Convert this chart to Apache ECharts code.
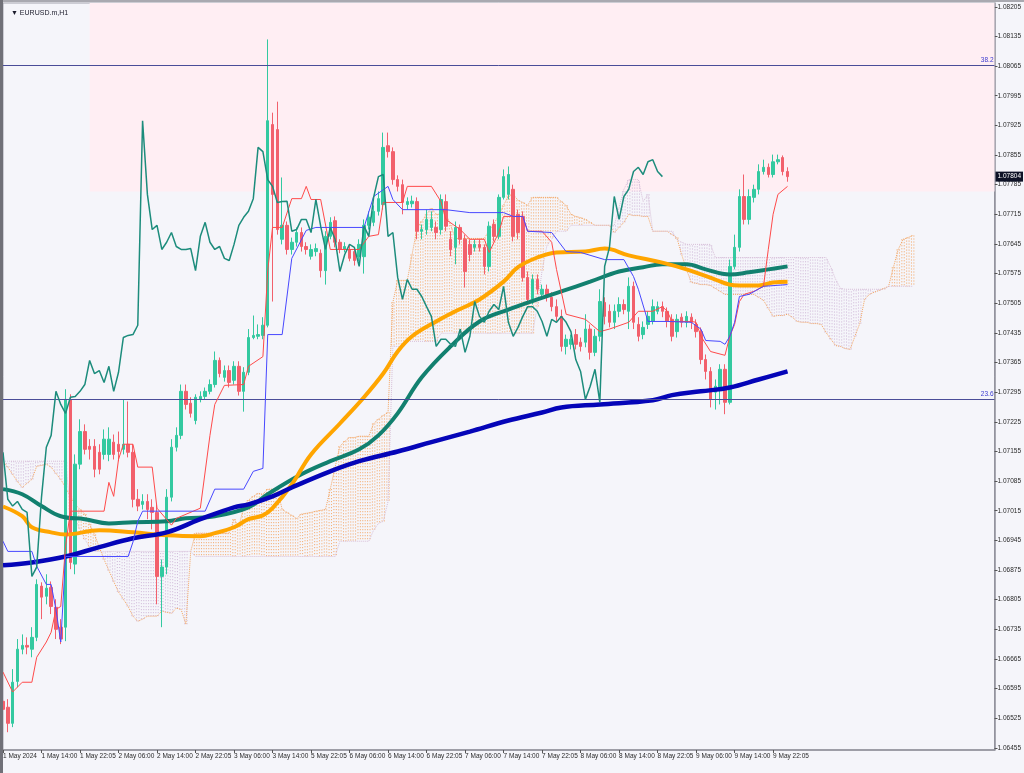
<!DOCTYPE html>
<html><head><meta charset="utf-8">
<script src="https://cdn.jsdelivr.net/npm/echarts@6/dist/echarts.min.js"></script>
<style>html,body{margin:0;padding:0;background:#f5f5fa;}#c{width:1024px;height:773px;}</style>
</head><body><div id="c"></div>
<script>
const tickLabels = ["1 May 2024","1 May 14:00","1 May 22:05","2 May 06:00","2 May 14:00","2 May 22:05","3 May 06:00","3 May 14:00","5 May 22:05","6 May 06:00","6 May 14:00","6 May 22:05","7 May 06:00","7 May 14:00","7 May 22:05","8 May 06:00","8 May 14:00","8 May 22:05","9 May 06:00","9 May 14:00","9 May 22:05"];
const priceTicks = [1.06455,1.06525,1.06595,1.06665,1.06735,1.06805,1.06875,1.06945,1.07015,1.07085,1.07155,1.07225,1.07295,1.07365,1.07435,1.07505,1.07575,1.07645,1.07715,1.07785,1.07855,1.07925,1.07995,1.08065,1.08135,1.08205];

const open = [1.06565,1.06551,1.06513,1.06612,1.06688,1.06697,1.06688,1.06716,1.06837,1.06813,
1.06834,1.06787,1.06740,1.06740,1.07278,1.06889,1.07125,1.07202,1.07167,1.07167,
1.07153,1.07148,1.07148,1.07177,1.07172,1.07160,1.07172,1.07153,1.07042,1.07030,
1.07037,1.07023,1.07011,1.06860,1.06882,1.07047,1.07165,1.07193,1.07297,1.07269,
1.07228,1.07278,1.07285,1.07297,1.07313,1.07370,1.07330,1.07346,1.07323,1.07356,
1.07297,1.07342,1.07424,1.07427,1.07429,1.07453,1.07927,1.07915,1.07656,1.07689,
1.07632,1.07649,1.07672,1.07639,1.07616,1.07627,1.07623,1.07582,1.07663,1.07700,
1.07649,1.07632,1.07632,1.07627,1.07615,1.07615,1.07689,1.07696,1.07722,1.07738,
1.07877,1.07863,1.07797,1.07785,1.07738,1.07740,1.07745,1.07675,1.07679,1.07684,
1.07684,1.07679,1.07745,1.07656,1.07637,1.07684,1.07656,1.07644,1.07637,1.07644,
1.07637,1.07592,1.07691,1.07663,1.07755,1.07762,1.07774,1.07715,1.07710,1.07566,
1.07514,1.07561,1.07526,1.07538,1.07519,1.07497,1.07474,1.07403,1.07408,1.07431,
1.07413,1.07413,1.07444,1.07389,1.07427,1.07507,1.07486,1.07460,1.07486,1.07502,
1.07486,1.07545,1.07455,1.07431,1.07455,1.07462,1.07486,1.07497,1.07486,1.07467,
1.07438,1.07472,1.07460,1.07472,1.07455,1.07438,1.07372,1.07344,1.07295,1.07302,
1.07349,1.07271,1.07592,1.07637,1.07757,1.07703,1.07755,1.07774,1.07816,1.07826,
1.07809,1.07839,1.07849,1.07816];
const close = [1.06546,1.06513,1.06610,1.06688,1.06697,1.06693,1.06716,1.06841,1.06811,1.06832,
1.06789,1.06735,1.06712,1.07278,1.06893,1.07125,1.07202,1.07160,1.07160,1.07113,
1.07113,1.07184,1.07184,1.07148,1.07155,1.07172,1.07153,1.07042,1.07026,1.07037,
1.07018,1.07011,1.06860,1.06882,1.07047,1.07165,1.07193,1.07297,1.07266,1.07245,
1.07283,1.07285,1.07297,1.07313,1.07370,1.07339,1.07346,1.07318,1.07356,1.07297,
1.07342,1.07424,1.07429,1.07431,1.07453,1.07936,1.07762,1.07679,1.07689,1.07632,
1.07649,1.07672,1.07639,1.07632,1.07632,1.07634,1.07582,1.07663,1.07696,1.07649,
1.07632,1.07639,1.07611,1.07606,1.07644,1.07689,1.07708,1.07722,1.07752,1.07873,
1.07863,1.07797,1.07781,1.07743,1.07745,1.07746,1.07675,1.07679,1.07703,1.07703,
1.07672,1.07750,1.07687,1.07632,1.07684,1.07656,1.07580,1.07620,1.07644,1.07637,
1.07592,1.07687,1.07663,1.07755,1.07804,1.07809,1.07663,1.07672,1.07566,1.07514,
1.07561,1.07538,1.07538,1.07521,1.07497,1.07474,1.07403,1.07420,1.07420,1.07408,
1.07403,1.07444,1.07389,1.07427,1.07509,1.07474,1.07460,1.07486,1.07502,1.07490,
1.07545,1.07460,1.07427,1.07448,1.07474,1.07497,1.07497,1.07486,1.07462,1.07427,
1.07467,1.07460,1.07474,1.07460,1.07438,1.07372,1.07344,1.07278,1.07309,1.07349,
1.07271,1.07592,1.07637,1.07757,1.07703,1.07757,1.07774,1.07816,1.07826,1.07809,
1.07839,1.07844,1.07816,1.07804];
const high = [1.06582,1.06570,1.06641,1.06712,1.06723,1.06716,1.06740,1.06853,1.06846,1.06865,
1.06848,1.06806,1.06759,1.07302,1.07290,1.07148,1.07231,1.07219,1.07184,1.07184,
1.07172,1.07207,1.07212,1.07195,1.07202,1.07278,1.07273,1.07172,1.07066,1.07054,
1.07054,1.07042,1.07030,1.06900,1.07066,1.07184,1.07212,1.07313,1.07313,1.07283,
1.07290,1.07297,1.07306,1.07325,1.07391,1.07377,1.07358,1.07358,1.07368,1.07368,
1.07354,1.07444,1.07476,1.07455,1.07472,1.08128,1.07955,1.07981,1.07802,1.07698,
1.07660,1.07684,1.07684,1.07649,1.07644,1.07646,1.07632,1.07675,1.07708,1.07710,
1.07656,1.07649,1.07642,1.07637,1.07656,1.07703,1.07722,1.07736,1.07769,1.07908,
1.07908,1.07873,1.07807,1.07797,1.07755,1.07759,1.07755,1.07691,1.07726,1.07722,
1.07698,1.07762,1.07762,1.07675,1.07698,1.07691,1.07667,1.07656,1.07656,1.07656,
1.07644,1.07698,1.07703,1.07762,1.07821,1.07828,1.07785,1.07726,1.07722,1.07580,
1.07573,1.07573,1.07549,1.07549,1.07531,1.07514,1.07490,1.07431,1.07431,1.07444,
1.07424,1.07479,1.07455,1.07444,1.07538,1.07519,1.07502,1.07502,1.07519,1.07514,
1.07566,1.07556,1.07472,1.07462,1.07486,1.07514,1.07509,1.07509,1.07495,1.07479,
1.07479,1.07481,1.07486,1.07481,1.07467,1.07448,1.07384,1.07354,1.07325,1.07361,
1.07361,1.07608,1.07667,1.07774,1.07809,1.07774,1.07785,1.07833,1.07844,1.07835,
1.07856,1.07856,1.07854,1.07826];
const low = [1.06535,1.06492,1.06504,1.06598,1.06676,1.06676,1.06669,1.06707,1.06759,1.06794,
1.06771,1.06712,1.06700,1.06707,1.06877,1.06865,1.07113,1.07148,1.07136,1.07094,
1.07101,1.07136,1.07132,1.07136,1.07132,1.07148,1.07141,1.07023,1.07014,1.07018,
1.06995,1.06971,1.06794,1.06740,1.06865,1.07037,1.07155,1.07184,1.07254,1.07235,
1.07219,1.07271,1.07278,1.07290,1.07306,1.07330,1.07320,1.07306,1.07313,1.07287,
1.07249,1.07335,1.07420,1.07420,1.07420,1.07448,1.07509,1.07667,1.07644,1.07620,
1.07620,1.07639,1.07627,1.07620,1.07608,1.07616,1.07566,1.07549,1.07656,1.07637,
1.07623,1.07625,1.07604,1.07594,1.07604,1.07575,1.07679,1.07687,1.07712,1.07726,
1.07849,1.07785,1.07769,1.07715,1.07726,1.07731,1.07656,1.07656,1.07667,1.07675,
1.07656,1.07667,1.07675,1.07616,1.07597,1.07644,1.07542,1.07604,1.07627,1.07627,
1.07573,1.07580,1.07651,1.07656,1.07750,1.07750,1.07651,1.07656,1.07556,1.07502,
1.07502,1.07526,1.07514,1.07509,1.07486,1.07462,1.07391,1.07384,1.07396,1.07396,
1.07391,1.07401,1.07372,1.07380,1.07415,1.07455,1.07448,1.07444,1.07472,1.07479,
1.07444,1.07444,1.07415,1.07420,1.07444,1.07455,1.07479,1.07472,1.07448,1.07415,
1.07424,1.07448,1.07448,1.07444,1.07424,1.07361,1.07325,1.07259,1.07254,1.07266,
1.07243,1.07266,1.07585,1.07627,1.07691,1.07691,1.07743,1.07762,1.07809,1.07802,
1.07802,1.07833,1.07807,1.07792];

// moving averages: [bar index, price]
const maTeal = [[0,1.07066],[4,1.07054],[8,1.07026],[12,1.07002],[17,1.06995],[22,1.06985],[27,1.06988],[34,1.06990],[38,1.06997],[44,1.07002],[51,1.07023],[55,1.07054],[62,1.07101],[68,1.07132],[74,1.07160],[78,1.07193],[82,1.07245],[87,1.07330],[93,1.07403],[99,1.07462],[105,1.07490],[111,1.07514],[116,1.07533],[122,1.07556],[128,1.07580],[133,1.07590],[137,1.07597],[142,1.07597],[146,1.07585],[151,1.07573],[155,1.07578],[159,1.07585],[163,1.07592]];
const maOrange = [[0,1.07025],[4,1.07002],[6,1.06976],[10,1.06964],[13,1.06959],[20,1.06969],[27,1.06964],[34,1.06957],[41,1.06955],[44,1.06962],[48,1.06976],[51,1.06995],[54,1.07004],[56,1.07021],[60,1.07077],[64,1.07148],[70,1.07221],[75,1.07283],[79,1.07339],[82,1.07391],[85,1.07427],[90,1.07462],[94,1.07486],[99,1.07514],[104,1.07556],[107,1.07590],[111,1.07613],[115,1.07625],[121,1.07627],[125,1.07634],[130,1.07618],[137,1.07601],[142,1.07585],[148,1.07561],[151,1.07549],[153,1.07547],[157,1.07547],[160,1.07554],[163,1.07556]];
const maBlue = [[0,1.06886],[6,1.06893],[13,1.06907],[20,1.06929],[27,1.06950],[34,1.06964],[41,1.06995],[48,1.07023],[51,1.07030],[56,1.07049],[60,1.07070],[68,1.07108],[74,1.07132],[82,1.07155],[89,1.07177],[97,1.07202],[105,1.07228],[112,1.07247],[116,1.07259],[124,1.07266],[135,1.07276],[139,1.07288],[145,1.07297],[151,1.07306],[157,1.07325],[163,1.07344]];

// Ichimoku
const tenkan = [[0,1.06634],[2,1.06587],[4,1.06610],[6,1.06610],[7,1.06669],[9,1.06705],[10,1.06728],[11,1.06782],[12,1.06789],[13,1.06931],[14,1.07014],[21,1.07014],[22,1.07082],[23,1.07049],[24,1.07136],[25,1.07172],[27,1.07172],[28,1.07118],[31,1.07118],[32,1.07021],[35,1.06981],[36,1.06997],[41,1.07021],[43,1.07193],[44,1.07266],[46,1.07311],[50,1.07313],[51,1.07356],[54,1.07379],[55,1.07582],[56,1.07684],[58,1.07684],[60,1.07752],[62,1.07752],[63,1.07781],[64,1.07750],[66,1.07750],[68,1.07632],[74,1.07632],[76,1.07663],[78,1.07667],[79,1.07743],[83,1.07743],[84,1.07781],[89,1.07781],[91,1.07745],[92,1.07703],[95,1.07679],[97,1.07656],[100,1.07656],[101,1.07625],[103,1.07672],[104,1.07710],[108,1.07710],[109,1.07675],[112,1.07675],[114,1.07649],[115,1.07585],[117,1.07479],[121,1.07467],[124,1.07438],[126,1.07444],[130,1.07460],[132,1.07486],[135,1.07486],[137,1.07497],[138,1.07486],[139,1.07462],[143,1.07462],[144,1.07460],[145,1.07427],[147,1.07391],[150,1.07382],[151,1.07427],[152,1.07455],[153,1.07509],[154,1.07526],[156,1.07533],[158,1.07545],[159,1.07632],[160,1.07715],[161,1.07762],[163,1.07781]];
const kijun = [[0,1.06943],[1,1.06919],[6,1.06919],[7,1.06884],[9,1.06841],[10,1.06841],[11,1.06782],[12,1.06705],[13,1.06907],[26,1.06907],[27,1.06941],[28,1.06990],[29,1.07014],[42,1.07014],[44,1.07066],[50,1.07066],[52,1.07108],[54,1.07115],[55,1.07431],[58,1.07431],[60,1.07611],[63,1.07677],[65,1.07684],[75,1.07684],[77,1.07757],[80,1.07781],[81,1.07750],[83,1.07726],[92,1.07726],[97,1.07719],[104,1.07719],[106,1.07710],[108,1.07710],[109,1.07675],[114,1.07672],[117,1.07627],[120,1.07625],[125,1.07608],[129,1.07608],[131,1.07568],[132,1.07538],[134,1.07462],[138,1.07462],[143,1.07460],[145,1.07444],[146,1.07417],[149,1.07415],[150,1.07408],[151,1.07427],[152,1.07460],[153,1.07521],[155,1.07526],[158,1.07545],[163,1.07549]];
const spanA = [1.07132,1.07118,1.07101,1.07084,1.07070,1.07080,1.07089,1.07120,1.07122,1.07125,
1.07118,1.07103,1.07089,1.07070,1.07049,1.07030,1.07018,1.07007,1.06983,1.06959,
1.06929,1.06900,1.06874,1.06848,1.06823,1.06806,1.06789,1.06766,1.06754,1.06759,
1.06766,1.06766,1.06766,1.06778,1.06775,1.06773,1.06785,1.06782,1.06747,1.06919,
1.06962,1.06962,1.06962,1.06962,1.06962,1.06962,1.06962,1.06962,1.06995,1.06978,
1.07023,1.07040,1.07049,1.07056,1.07054,1.07066,1.07066,1.07066,1.07018,1.07011,
1.07004,1.06997,1.07007,1.07009,1.07011,1.07014,1.07016,1.07018,1.07066,1.07118,
1.07167,1.07179,1.07188,1.07188,1.07191,1.07191,1.07191,1.07221,1.07231,1.07240,
1.07247,1.07507,1.07559,1.07559,1.07559,1.07620,1.07682,1.07698,1.07715,1.07729,
1.07715,1.07715,1.07717,1.07689,1.07658,1.07658,1.07658,1.07658,1.07658,1.07658,
1.07658,1.07677,1.07693,1.07712,1.07736,1.07759,1.07762,1.07748,1.07743,1.07736,
1.07755,1.07755,1.07755,1.07755,1.07755,1.07755,1.07745,1.07736,1.07715,1.07710,
1.07707,1.07703,1.07696,1.07689,1.07689,1.07689,1.07689,1.07672,1.07684,1.07696,
1.07715,1.07712,1.07712,1.07710,1.07710,1.07675,1.07675,1.07675,1.07675,1.07667,
1.07660,1.07620,1.07585,1.07554,1.07552,1.07549,1.07549,1.07547,1.07540,1.07533,
1.07526,1.07526,1.07526,1.07526,1.07526,1.07526,1.07526,1.07519,1.07512,1.07493,
1.07474,1.07476,1.07476,1.07479,1.07472,1.07462,1.07460,1.07460,1.07457,1.07457,
1.07455,1.07436,1.07420,1.07405,1.07403,1.07398,1.07396,1.07427,1.07457,1.07514,
1.07526,1.07531,1.07535,1.07540,1.07545,1.07590,1.07632,1.07656,1.07660,1.07665];
const spanB = [1.07132,1.07132,1.07132,1.07132,1.07132,1.07132,1.07132,1.07132,1.07132,1.07132,
1.07132,1.07132,1.07132,1.07132,1.07018,1.06995,1.06971,1.06948,1.06929,1.06919,
1.06919,1.06919,1.06919,1.06919,1.06919,1.06919,1.06919,1.06919,1.06919,1.06919,
1.06919,1.06919,1.06919,1.06919,1.06919,1.06919,1.06919,1.06919,1.06919,1.06919,
1.06907,1.06907,1.06907,1.06907,1.06907,1.06907,1.06907,1.06907,1.06907,1.06907,
1.06907,1.06907,1.06907,1.06907,1.06907,1.06907,1.06907,1.06907,1.06907,1.06907,
1.06907,1.06907,1.06907,1.06907,1.06907,1.06907,1.06907,1.06907,1.06907,1.06907,
1.06943,1.06943,1.06943,1.06943,1.06943,1.06943,1.06943,1.06969,1.06985,1.06990,
1.07037,1.07403,1.07403,1.07403,1.07415,1.07415,1.07415,1.07415,1.07415,1.07415,
1.07415,1.07434,1.07434,1.07434,1.07434,1.07434,1.07434,1.07434,1.07434,1.07434,
1.07434,1.07434,1.07434,1.07434,1.07434,1.07434,1.07434,1.07434,1.07434,1.07434,
1.07434,1.07497,1.07582,1.07641,1.07656,1.07675,1.07675,1.07675,1.07689,1.07689,
1.07689,1.07689,1.07689,1.07689,1.07689,1.07689,1.07689,1.07689,1.07731,1.07774,
1.07797,1.07797,1.07797,1.07745,1.07762,1.07675,1.07675,1.07675,1.07675,1.07675,
1.07656,1.07649,1.07644,1.07644,1.07644,1.07644,1.07644,1.07644,1.07613,1.07613,
1.07613,1.07613,1.07613,1.07613,1.07613,1.07613,1.07613,1.07613,1.07613,1.07613,
1.07613,1.07613,1.07613,1.07613,1.07613,1.07613,1.07613,1.07613,1.07613,1.07613,
1.07613,1.07613,1.07590,1.07561,1.07540,1.07538,1.07538,1.07538,1.07538,1.07538,
1.07538,1.07538,1.07538,1.07538,1.07545,1.07545,1.07545,1.07545,1.07545,1.07545];

const levels = [{name:'38.2', value:1.08068},{name:'23.6', value:1.07279}];
const zone = {fromBar:18, low:1.07769};
const lastPrice = 1.07804;
const symbol = '\u25BC EURUSD.m,H1';

const N = 207;
const cats = Array.from({length:N}, (_, i) => String(i));
const candles = open.map((o, i) => [o, close[i], low[i], high[i]]);
const chikou = close.slice(26).map((v, i) => [i, v]);
const cloud = spanA.map((a, i) => [i, a, spanB[i]]);
const tickShown = (i) => i % 8 === 0 && i / 8 < tickLabels.length;
const FONT = 'Liberation Sans, Arial, sans-serif';

const chart = echarts.init(document.getElementById('c'), null, {renderer:'canvas'});
chart.setOption({
  animation:false,
  backgroundColor:'#f5f5fa',
  textStyle:{fontFamily:FONT},
  title:{text:symbol, left:6, top:5, textStyle:{fontSize:7, fontWeight:'normal', color:'#1a1a2a', fontFamily:FONT}},
  grid:{left:3, right:28, top:3, bottom:23, show:true, borderColor:'#a4a4ae', borderWidth:1, backgroundColor:'#f5f5fa'},
  graphic:[
    {type:'rect', shape:{x:0, y:0, width:1024, height:2}, style:{fill:'#a9a9b0'}, z:100},
    {type:'rect', shape:{x:0, y:0, width:3, height:773}, style:{fill:'#707078'}, z:100}
  ],
  xAxis:{type:'category', data:cats, boundaryGap:false,
    axisLine:{lineStyle:{color:'#8e8e98', width:1.5}},
    axisTick:{interval:tickShown, length:3, lineStyle:{color:'#555'}},
    axisLabel:{interval:tickShown, formatter:(v, i) => tickLabels[i / 8] || '', align:'left', fontSize:6.5, color:'#2a2a2a', margin:3, fontFamily:FONT},
    splitLine:{show:false}},
  yAxis:{type:'value', position:'right', min:1.06450, max:1.08214, scale:true,
    axisLine:{show:true, lineStyle:{color:'#8e8e98', width:1.5}},
    axisTick:{show:true, customValues:priceTicks, length:3, lineStyle:{color:'#555'}},
    axisLabel:{customValues:priceTicks, formatter:(v) => v.toFixed(5), fontSize:6.5, color:'#2a2a2a', margin:3, fontFamily:FONT},
    splitLine:{show:false}},
  series:[
    {type:'custom', name:'kumo', z:1, silent:true, clip:true,
      data:cloud, encode:{x:0, y:[1,2]},
      renderItem(params, api){
        const i = api.value(0), a = api.value(1), b = api.value(2);
        const pa = api.coord([i, a]), pb = api.coord([i, b]);
        const w = api.size([1, 0])[0];
        const col = a >= b ? '#F4A460' : '#CDB5D6';
        return {type:'group', children:[-w/4, w/4].map(dx => ({
          type:'line', shape:{x1:pa[0]+dx, y1:pa[1], x2:pb[0]+dx, y2:pb[1]},
          style:{stroke:col, lineWidth:1, lineDash:[1,2]}}))};
      },
      markArea:{silent:true, itemStyle:{color:'#ffeef3'},
        data:[[{xAxis:zone.fromBar, yAxis:zone.low},{xAxis:N-1, yAxis:1.08214}]]}
    },
    {type:'line', name:'spanA', data:spanA, symbol:'none', z:2, lineStyle:{color:'#F4A460', width:1, type:'dotted'}},
    {type:'line', name:'spanB', data:spanB, symbol:'none', z:2, lineStyle:{color:'#D8BFD8', width:1, type:'dotted'}},
    {type:'candlestick', name:'EURUSD', data:candles, barWidth:3, z:3,
      itemStyle:{color:'#33C9A0', color0:'#F2606C', borderColor:'#33C9A0', borderColor0:'#F2606C', borderWidth:1}
    },
    {type:'line', name:'MA teal', data:maTeal, smooth:0.4, symbol:'none', z:4, lineStyle:{color:'#12806f', width:4}},
    {type:'line', name:'MA orange', data:maOrange, smooth:0.4, symbol:'none', z:4, lineStyle:{color:'#FFA500', width:4}},
    {type:'line', name:'MA blue', data:maBlue, smooth:0.4, symbol:'none', z:4, lineStyle:{color:'#0505B8', width:4.5}},
    {type:'line', name:'Tenkan', data:tenkan, symbol:'none', z:5, lineStyle:{color:'#FF4A4A', width:1}},
    {type:'line', name:'Kijun', data:kijun, symbol:'none', z:5, lineStyle:{color:'#4848FF', width:1}},
    {type:'line', name:'Chikou', data:chikou, symbol:'none', z:6, lineStyle:{color:'#1C8C7C', width:1.5}},
    {type:'line', name:'levels', data:[], symbol:'none', z:7,
      markLine:{symbol:'none', silent:true, precision:5,
        data:[
          ...levels.map(l => ({yAxis:l.value, lineStyle:{color:'#4a4d98', width:1, type:'solid'},
            label:{show:true, formatter:l.name, position:'insideEndTop', color:'#3a3ad0', fontSize:6.5, distance:[1,1], fontFamily:FONT}})),
          {yAxis:lastPrice, lineStyle:{color:'rgba(0,0,0,0)', width:0},
            label:{show:true, formatter:lastPrice.toFixed(5), position:'end', distance:1, color:'#ffffff', backgroundColor:'#0d1226', padding:[2,2,1,2], fontSize:6.5, fontFamily:FONT}}
        ]}
    }
  ]
});
</script></body></html>
